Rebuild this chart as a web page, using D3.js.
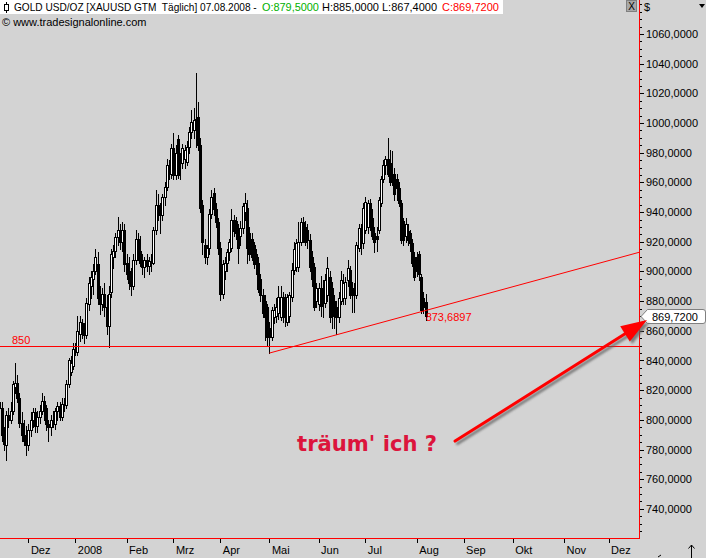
<!DOCTYPE html>
<html><head><meta charset="utf-8">
<script src="https://cdn.jsdelivr.net/npm/d3@7"></script>
<style>
html,body{margin:0;padding:0;background:#d3d3d3;overflow:hidden;}
svg{display:block;font-family:"Liberation Sans",Arial,sans-serif;}
</style></head><body>
<svg id="chart" width="706" height="558"></svg>
<script>
// ---------------- data ----------------
const startDate = "2007-11-14";   // first bar; one bar per weekday
const opens = [
812,808,790,783,803,800,806,822,825,815,
798,790,788,783,793,800,805,796,802,806,
813,808,797,795,800,797,806,809,802,811,
810,824,832,836,848,846,858,865,860,857,
878,890,895,900,905,882,878,885,876,863,
886,910,914,923,928,920,928,906,900,892,
890,908,922,914,906,903,908,904,907,906,
928,945,940,938,950,957,970,966,983,965,
989,976,973,976,974,984,994,995,1003,1004,
985,945,918,910,916,939,953,942,933,916,
885,900,906,913,916,935,934,929,924,929,
940,943,926,922,918,912,906,895,884,880,
876,862,856,869,870,872,869,883,882,866,
870,883,901,903,903,920,933,930,928,921,
910,903,880,878,889,886,879,884,896,889,
880,876,869,880,882,882,894,901,889,889,
884,916,928,919,928,930,946,936,926,924,
928,946,962,972,976,973,966,966,962,956,
946,934,924,927,926,919,910,910,912,896,
882,879.5];
const highs = [
820,812,795,806,808,812,826,838,830,818,
805,800,796,797,805,808,808,806,810,818,
816,810,800,803,806,808,812,812,815,815,
827,842,843,852,852,870,870,868,865,882,
896,900,905,915,913,890,889,892,884,890,
915,918,926,937,932,933,932,912,910,902,
912,928,926,924,912,910,912,910,912,930,
955,952,946,952,960,976,975,986,993,985,
992,980,986,985,988,997,1009,1010,1034,1014,
990,948,922,918,942,955,956,946,936,920,
908,910,915,922,942,938,937,932,934,946,
953,948,930,926,920,915,910,898,888,884,
878,866,876,878,882,890,890,886,885,885,
886,906,920,922,933,936,937,934,932,925,
914,906,892,892,897,894,898,910,900,893,
884,880,886,900,898,896,908,904,893,892,
920,932,932,946,950,948,949,942,930,930,
950,964,975,978,990,982,981,970,966,960,
948,936,936,932,928,922,913,913,914,898,
886,885];
const lows = [
803,786,780,773,795,798,804,818,812,795,
786,783,776,780,789,795,792,792,798,804,
800,793,786,790,795,794,800,800,800,806,
808,822,830,834,844,844,853,855,852,855,
874,882,885,898,878,871,874,870,858,849,
883,902,910,918,915,914,900,895,888,884,
888,905,908,904,898,896,900,898,900,905,
925,935,926,935,945,955,962,963,962,962,
963,962,970,970,972,980,990,990,984,982,
940,912,906,905,912,936,938,930,912,881,
882,895,900,908,914,924,922,906,918,926,
935,906,908,908,902,898,886,880,869,854,
850,845,854,865,866,868,867,866,863,864,
866,880,898,900,900,918,920,918,916,900,
890,874,876,874,870,869,876,880,866,862,
862,858,866,878,878,878,890,882,873,873,
882,914,912,916,926,926,928,922,913,914,
926,944,960,966,964,958,958,948,948,944,
919,918,920,918,914,904,894,897,894,872,
872,867.4];
const closes = [
808,790,784,803,800,806,824,825,815,798,
790,786,783,793,800,805,796,802,806,813,
808,797,795,800,797,806,809,802,811,810,
824,840,838,848,846,860,866,860,857,879,
892,896,900,910,882,878,885,876,863,885,
912,914,923,928,920,928,905,898,892,890,
908,922,912,906,903,908,904,907,906,928,
945,940,938,950,957,972,968,983,965,980,
965,973,983,982,984,994,1001,1002,996,985,
943,920,910,916,939,950,942,933,916,885,
905,906,913,920,935,927,926,916,929,944,
946,916,912,910,905,905,888,884,872,869,
856,856,874,874,876,883,883,869,870,883,
884,901,915,919,920,933,922,920,921,903,
895,876,889,889,877,880,894,902,869,876,
870,869,882,894,892,893,902,884,884,886,
918,929,919,943,947,946,932,924,920,922,
948,962,972,976,966,960,962,952,956,946,
921,921,932,921,919,906,896,900,898,874,
876,869.72];

const monthTickDates  = ["2007-12-03","2008-01-01","2008-02-01","2008-03-03","2008-04-01","2008-05-01","2008-06-02","2008-07-01","2008-08-01","2008-09-01","2008-10-01","2008-11-03","2008-12-01"];
const monthTickLabels = ["Dez","2008","Feb","Mrz","Apr","Mai","Jun","Jul","Aug","Sep","Okt","Nov","Dez"];
const priceTicks = [740,760,780,800,820,840,860,880,900,920,940,960,980,1000,1020,1040,1060];
const level850 = 850;
const trendAnchors = [{date:"2008-05-01", price:845.0}, {date:"2008-08-07", price:873.6897}];
const lastClose = 869.72;
const headerTitle = "GOLD USD/OZ [XAUUSD GTM  Täglich] 07.08.2008 -";
const headerValues = [
  {t:"O:879,5000", c:"#00b000"},
  {t:"H:885,0000", c:"#000"},
  {t:"L:867,4000", c:"#000"},
  {t:"C:869,7200", c:"#ff0000"}
];
const annotation = "träum' ich ?";

// ---------------- helpers ----------------
const ref = Date.UTC(2007,11,3); // Monday
function parse(s){const [Y,M,D]=s.split("-").map(Number);return Date.UTC(Y,M-1,D);}
function wdIndex(s){const days=Math.round((parse(s)-ref)/864e5);const w=Math.floor(days/7);const r=days-w*7;return w*5+Math.min(r,5);}

const startIdx = wdIndex(startDate);
const bars = opens.map((o,k)=>({i:startIdx+k,o,h:highs[k],l:lows[k],c:closes[k]}));

const svg = d3.select("#chart");
const PR = 639, PB = 538;
const x = d3.scaleLinear().domain([wdIndex("2007-12-03"), wdIndex("2008-08-01")]).range([28.4, 416.7]);
const y = d3.scaleLinear().domain([740,1060]).range([508.9, 34]);
const fmt = d3.formatLocale({decimal:",",thousands:".",grouping:[3],currency:["",""]}).format(".4f");

svg.append("rect").attr("width",706).attr("height",558).attr("fill","#d3d3d3");
svg.append("defs").html(`
 <clipPath id="clip"><rect x="0" y="0" width="${PR}" height="${PB}"/></clipPath>
 <filter id="shadow" x="-10%" y="-10%" width="120%" height="120%"><feGaussianBlur stdDeviation="1.2"/></filter>`);

const plot = svg.append("g").attr("clip-path","url(#clip)");

// candles
const cg = plot.append("g").attr("shape-rendering","crispEdges");
const cand = cg.selectAll("g.c").data(bars).join("g").attr("class","c");
cand.append("line")
  .attr("x1",d=>Math.round(x(d.i))+0.5).attr("x2",d=>Math.round(x(d.i))+0.5)
  .attr("y1",d=>Math.round(y(d.h))).attr("y2",d=>Math.round(y(d.l))+1)
  .attr("stroke","#000").attr("stroke-width",1);
cand.append("rect")
  .attr("x",d=>Math.round(x(d.i))-0.5)
  .attr("y",d=>Math.round(y(Math.max(d.o,d.c)))+0.5)
  .attr("width",2)
  .attr("height",d=>Math.max(1,Math.round(y(Math.min(d.o,d.c)))-Math.round(y(Math.max(d.o,d.c)))))
  .attr("fill",d=>d.c>=d.o?"#fff":"#000")
  .attr("stroke","#000").attr("stroke-width",1);

// 850 line
plot.append("line").attr("x1",0).attr("x2",PR).attr("y1",Math.round(y(level850))+0.5).attr("y2",Math.round(y(level850))+0.5)
  .attr("stroke","#ff0000").attr("stroke-width",1).attr("shape-rendering","crispEdges");
svg.append("text").attr("x",12).attr("y",y(level850)-2).attr("fill","#ff0000").attr("font-size",11).text(String(level850));

// trend line
const a0 = trendAnchors[0], a1 = trendAnchors[1];
const i0 = wdIndex(a0.date), i1 = wdIndex(a1.date);
const slope = (a1.price-a0.price)/(i1-i0);
const iEnd = x.invert(PR);
plot.append("line").attr("x1",x(i0)).attr("y1",y(a0.price)).attr("x2",x(iEnd)).attr("y2",y(a0.price+slope*(iEnd-i0)))
  .attr("stroke","#ff0000").attr("stroke-width",1);
svg.append("text").attr("x",x(i1)).attr("y",y(a1.price)+10.5).attr("fill","#ff0000").attr("font-size",11).text(fmt(a1.price));

// frame lines
svg.append("line").attr("x1",PR+0.5).attr("x2",PR+0.5).attr("y1",0).attr("y2",PB+1).attr("stroke","#ff0000").attr("shape-rendering","crispEdges");
svg.append("line").attr("x1",0).attr("x2",PR+1).attr("y1",PB+0.5).attr("y2",PB+0.5).attr("stroke","#ff0000").attr("shape-rendering","crispEdges");

// y axis
const minorTicks = d3.range(725,1085,5).filter(v=>!priceTicks.includes(v));
const yMinor = svg.append("g").attr("transform",`translate(${PR+1},0)`)
  .call(d3.axisRight(y).tickValues(minorTicks).tickSize(2).tickFormat(""));
yMinor.select(".domain").remove();
yMinor.selectAll("line").attr("stroke","#000").attr("shape-rendering","crispEdges");
const yAx = svg.append("g").attr("transform",`translate(${PR+1},0)`)
  .call(d3.axisRight(y).tickValues(priceTicks).tickSize(4).tickPadding(2).tickFormat(fmt));
yAx.select(".domain").remove();
yAx.selectAll("line").attr("stroke","#000").attr("shape-rendering","crispEdges");
yAx.selectAll("text").attr("fill","#000").attr("font-size",11).attr("font-family",'"Liberation Sans",Arial,sans-serif');

// x axis
const xAx = svg.append("g").attr("transform",`translate(0,${PB+1})`)
  .call(d3.axisBottom(x).tickValues(monthTickDates.map(wdIndex)).tickSize(4).tickPadding(3).tickFormat((d,k)=>monthTickLabels[k]));
xAx.select(".domain").remove();
xAx.selectAll("line").attr("stroke","#000").attr("shape-rendering","crispEdges");
xAx.selectAll("text").attr("x",2).attr("text-anchor","start").attr("fill","#000").attr("font-size",11)
  .attr("font-family",'"Liberation Sans",Arial,sans-serif');

// last price marker
const yl = Math.round(y(lastClose));
svg.append("path").attr("d",`M641,${yl+0.5} L647.5,${yl-6.5} L703,${yl-6.5} Q705.5,${yl-6.5} 705.5,${yl-4} L705.5,${yl+5} Q705.5,${yl+7.5} 703,${yl+7.5} L647.5,${yl+7.5} Z`)
  .attr("fill","#fff").attr("stroke","#808080").attr("stroke-width",1);
svg.append("text").attr("x",652).attr("y",yl+4.5).attr("font-size",11).attr("fill","#000").text(fmt(lastClose));

// annotation arrow (data coordinates)
const arrFrom = {i:191.2, p:785.7}, arrTo = {i:277.2, p:867.3};
const ax0=x(arrFrom.i), ay0=y(arrFrom.p), ax1=x(arrTo.i), ay1=y(arrTo.p);
const L=Math.hypot(ax1-ax0,ay1-ay0), ux=(ax1-ax0)/L, uy=(ay1-ay0)/L, nx=-uy, ny=ux;
const hl=26, hw=9;
const bx=ax1-hl*ux, by=ay1-hl*uy;
function arrow(g,dx,dy,col){
  g.append("line").attr("x1",ax0+dx).attr("y1",ay0+dy).attr("x2",bx+2*ux+dx).attr("y2",by+2*uy+dy)
    .attr("stroke",col).attr("stroke-width",3).attr("stroke-linecap","round");
  g.append("polygon").attr("points",[[ax1+dx,ay1+dy],[bx+hw*nx+dx,by+hw*ny+dy],[bx-hw*nx+dx,by-hw*ny+dy]].map(p=>p.join(",")).join(" "))
    .attr("fill",col);
}
const sh = svg.append("g").attr("filter","url(#shadow)").attr("opacity",0.75);
arrow(sh,2.5,2.5,"#606060");
arrow(svg.append("g"),0,0,"#ff0000");

// annotation text
svg.append("text").attr("x",x(120.4)).attr("y",y(779)).attr("fill","#dc143c")
  .attr("font-family",'"DejaVu Sans",Verdana,sans-serif').attr("font-weight","bold").attr("font-size",21)
  .attr("textLength",140).attr("lengthAdjust","spacingAndGlyphs").text(annotation);

// header
svg.append("rect").attr("x",0).attr("y",0).attr("width",503).attr("height",14).attr("fill","#fff");
const ic = svg.append("g").attr("shape-rendering","crispEdges");
ic.append("line").attr("x1",6.5).attr("x2",6.5).attr("y1",2).attr("y2",13).attr("stroke","#000");
ic.append("rect").attr("x",4.5).attr("y",4.5).attr("width",4).attr("height",6).attr("fill","#fff").attr("stroke","#000");
function fitText(t, w){
  const n = t.node().getComputedTextLength();
  if (n > w) t.attr("font-size", (11*w/n).toFixed(2));
}
const t0 = svg.append("text").attr("x",14).attr("y",11).attr("font-size",11).attr("fill","#000").style("white-space","pre").text(headerTitle);
fitText(t0, 243);
const valX = [262, 322, 382, 442];
headerValues.forEach((p,k)=>{
  const t = svg.append("text").attr("x",valX[k]).attr("y",11).attr("font-size",11).attr("fill",p.c).text(p.t);
  fitText(t, 57);
});
svg.append("text").attr("x",2).attr("y",26).attr("font-size",11).attr("fill","#000").text("© www.tradesignalonline.com");

// top-right controls
svg.append("rect").attr("x",626.5).attr("y",0.5).attr("width",10).attr("height",11).attr("fill","#a8a8a8").attr("stroke","#808080").attr("shape-rendering","crispEdges");
svg.append("text").attr("x",631.5).attr("y",10).attr("text-anchor","middle").attr("font-size",10).attr("fill","#000").text("X");
svg.append("text").attr("x",644).attr("y",11).attr("font-size",11).attr("fill","#000").text("$");
svg.append("polygon").attr("points","699,4 705,4 702,8").attr("fill","#000");
// bottom-right marks
svg.append("line").attr("x1",691.5).attr("x2",691.5).attr("y1",545).attr("y2",558).attr("stroke","#000").attr("shape-rendering","crispEdges");
svg.append("polyline").attr("points","688.5,548.5 691.5,545 694.5,548.5").attr("fill","none").attr("stroke","#000");
svg.append("line").attr("x1",658).attr("y1",557).attr("x2",661).attr("y2",555).attr("stroke","#000");
</script>
</body></html>
